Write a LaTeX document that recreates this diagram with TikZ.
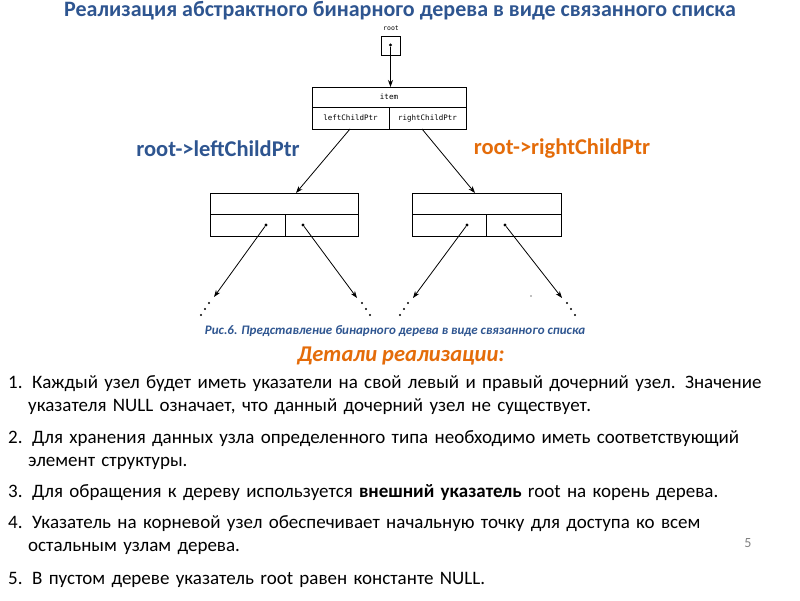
\documentclass[tikz,border=0pt]{standalone}
\usetikzlibrary{arrows.meta}
\usepackage{fontspec}
\setmainfont{Carlito}
\setmonofont{DejaVu Sans Mono}
\definecolor{tblue}{HTML}{2E5590}
\definecolor{torange}{HTML}{E46C0A}
\begin{document}
\begin{tikzpicture}[x=1pt,y=-1pt,
  ln/.style={line width=0.8pt},
  arr/.style={ln,-{Stealth[length=7pt,width=5pt]}},
  dotc/.style={fill,circle,inner sep=1.1pt},
  li/.style={anchor=north west,align=left,font=\fontsize{19}{23}\selectfont,text width=780pt,inner sep=0pt}]
\useasboundingbox (0,0) rectangle (800,600);
\node (title) at (400,11) {\fontsize{22}{24}\selectfont\bfseries\color{tblue}Реализация абстрактного бинарного дерева в виде связанного списка};
\node (rl) at (391,28) {\ttfamily\fontsize{6.5}{7}\selectfont root};
\draw[ln] (381,36) rectangle (400,55);
\node[dotc] (rd) at (390.5,45) {};
% top node
\draw[ln] (312,87) rectangle (466,129); \draw[ln] (312,107)--(466,107); \draw[ln] (389,107)--(389,129);
\node at (389,97) {\ttfamily\fontsize{7.5}{8}\selectfont item};
\node at (350.5,118) {\ttfamily\fontsize{7.5}{8}\selectfont leftChildPtr};
\node at (427.5,118) {\ttfamily\fontsize{7.5}{8}\selectfont rightChildPtr};
\coordinate (tn) at (390.5,87);
\draw[arr] (rd)--(tn);
% children
\draw[ln] (210,193) rectangle (358,236); \draw[ln] (210,214)--(358,214); \draw[ln] (285,214)--(285,236);
\draw[ln] (412,193) rectangle (561,236); \draw[ln] (412,214)--(561,214); \draw[ln] (486,214)--(486,236);
\coordinate (tl) at (350,129); \coordinate (tr) at (422,129);
\coordinate (lc) at (296,193); \coordinate (rc) at (475,193);
\draw[arr] (tl)--(lc); \draw[arr] (tr)--(rc);
\node[dotc] (a1) at (266,225) {}; \node[dotc] (a2) at (303,225) {};
\node[dotc] (b1) at (467,225) {}; \node[dotc] (b2) at (505,225) {};
\coordinate (e1) at (214,297); \coordinate (e2) at (357,298);
\coordinate (e3) at (413,298); \coordinate (e4) at (562,298);
\draw[arr] (a1)--(e1); \draw[arr] (a2)--(e2); \draw[arr] (b1)--(e3); \draw[arr] (b2)--(e4);
\foreach \x/\y in {209/303,205/309,201/315, 362/303,366/309,370/315, 408/303,404/309,400/315, 567/303,571/309,575/315}
  \fill (\x,\y) circle (1.2pt);
\fill[gray] (531,296) circle (0.8pt);
\node (ll) at (218,149) {\fontsize{22.5}{24}\selectfont\bfseries\color{tblue}root->leftChildPtr};
\node (rl2) at (562,149) {\fontsize{22.5}{24}\selectfont\bfseries\color{torange}root->rightChildPtr};
\node (cap) at (395,331) {\fontsize{13}{14}\selectfont\bfseries\itshape\color{tblue}Рис.6. Представление бинарного дерева в виде связанного списка};
\node (det) at (401,356) {\fontsize{22.5}{24}\selectfont\bfseries\itshape\color{torange}Детали реализации:};
\node[li] (i1) at (8,375) {1. Каждый узел будет иметь указатели на свой левый и правый дочерний узел. Значение\\\hspace*{20pt}указателя NULL означает, что данный дочерний узел не существует.};
\node[li] (i2) at (8,430) {2. Для хранения данных узла определенного типа необходимо иметь соответствующий\\\hspace*{20pt}элемент структуры.};
\node[li] (i3) at (8,484) {3. Для обращения к дереву используется \textbf{внешний указатель} root на корень дерева.};
\node[li] (i4) at (8,515) {4. Указатель на корневой узел обеспечивает начальную точку для доступа ко всем\\\hspace*{20pt}остальным узлам дерева.};
\node[li] (i5) at (8,572) {5. В пустом дереве указатель root равен константе NULL.};
\node (pg) at (748,543) {\fontsize{14}{15}\selectfont\color{gray}5};
\end{tikzpicture}
\end{document}
